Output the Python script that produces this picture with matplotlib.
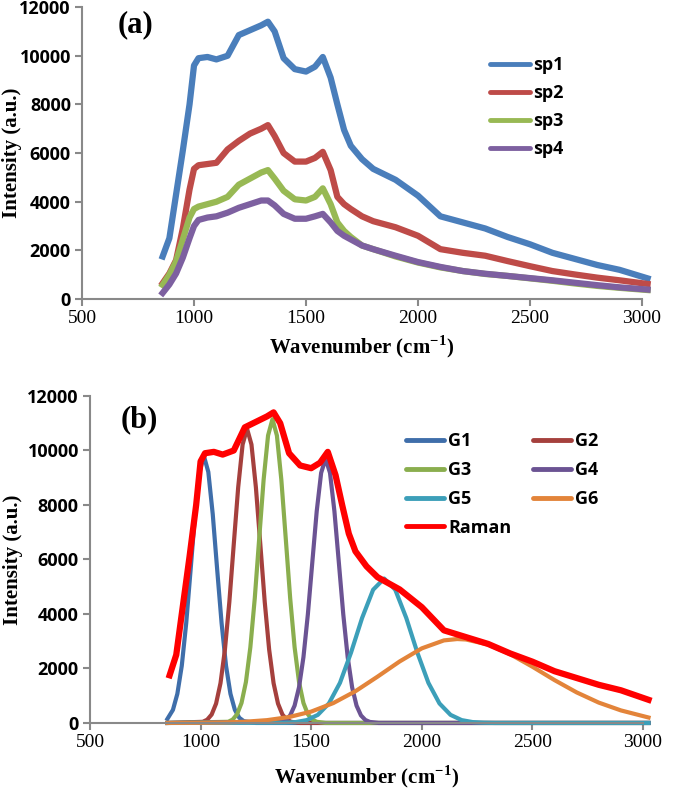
import matplotlib
matplotlib.use("Agg")
import matplotlib.pyplot as plt

plt.rcParams['mathtext.fontset'] = 'custom'
plt.rcParams['mathtext.rm'] = 'Liberation Serif:bold'
plt.rcParams['mathtext.bf'] = 'Liberation Serif:bold'

# wavenumber grid the spectra were read at (cm-1)
wn = [860, 890, 920, 950, 980, 1000, 1020, 1060, 1100, 1150, 1200, 1250, 1300,
      1330, 1360, 1400, 1450, 1500, 1540, 1575, 1610, 1640, 1670, 1700, 1750,
      1800, 1900, 2000, 2100, 2200, 2300, 2400, 2500, 2600, 2700, 2800, 2900, 3025]

sp1 = [1750, 2500, 4300, 6100, 8000, 9600, 9900, 9950, 9850, 10000, 10850, 11050, 11250,
       11400, 11000, 9900, 9450, 9350, 9550, 9950, 9100, 8000, 6950, 6300, 5750,
       5350, 4900, 4250, 3400, 3150, 2900, 2550, 2250, 1900, 1650, 1400, 1200, 850]
sp2 = [650, 1050, 1600, 2900, 4500, 5350, 5500, 5550, 5600, 6150, 6500, 6800, 7000,
       7150, 6700, 6000, 5650, 5650, 5800, 6050, 5300, 4200, 3900, 3700, 3400,
       3200, 2950, 2600, 2050, 1900, 1780, 1560, 1350, 1150, 1010, 880, 770, 620]
sp3 = [580, 1000, 1550, 2450, 3350, 3700, 3800, 3900, 4000, 4200, 4700, 4950, 5200,
       5300, 4950, 4450, 4100, 4050, 4200, 4550, 3900, 3150, 2800, 2550, 2200,
       2050, 1750, 1500, 1300, 1150, 1030, 950, 850, 750, 640, 540, 460, 370]
sp4 = [250, 600, 1050, 1700, 2500, 3000, 3250, 3350, 3400, 3550, 3750, 3900, 4050,
       4050, 3850, 3500, 3300, 3300, 3400, 3500, 3150, 2800, 2600, 2450, 2200,
       2050, 1780, 1520, 1320, 1150, 1040, 950, 860, 770, 670, 570, 480, 390]

# fitted components in panel (b), read point by point
g1_x = [850, 875, 895, 915, 935, 955, 975, 995, 1015, 1035, 1055, 1075, 1095, 1115,
        1135, 1155, 1175, 1195, 1250, 3025]
g1_y = [150, 480, 1070, 2100, 3660, 5630, 7660, 9210, 9800, 9210, 7660, 5630, 3660, 2100,
        1070, 480, 190, 67, 0, 0]
g2_x = [850, 1010, 1030, 1050, 1070, 1090, 1110, 1130, 1150, 1170, 1190, 1210, 1230,
        1250, 1270, 1290, 1310, 1330, 1350, 1370, 1390, 1410, 1450, 3025]
g2_y = [0, 42, 120, 309, 710, 1460, 2690, 4440, 6560, 8650, 10220, 10800, 10220,
        8650, 6560, 4440, 2690, 1460, 710, 309, 120, 42, 0, 0]
g3_x = [850, 1125, 1145, 1165, 1185, 1205, 1225, 1245, 1265, 1285, 1305, 1325, 1345,
        1365, 1385, 1405, 1425, 1445, 1465, 1485, 1505, 1525, 1565, 3025]
g3_y = [0, 43, 124, 319, 733, 1505, 2780, 4580, 6770, 8930, 10550, 11150, 10550,
        8930, 6770, 4580, 2780, 1505, 733, 319, 124, 43, 0, 0]
g4_x = [850, 1365, 1385, 1405, 1425, 1445, 1465, 1485, 1505, 1525, 1545, 1565, 1585,
        1605, 1625, 1645, 1665, 1685, 1705, 1725, 1745, 1765, 1805, 3025]
g4_y = [0, 38, 108, 277, 637, 1310, 2415, 3990, 5890, 7770, 9180, 9700, 9180,
        7770, 5890, 3990, 2415, 1310, 637, 277, 108, 38, 0, 0]
g5_x = [850, 1380, 1430, 1480, 1530, 1580, 1630, 1680, 1730, 1780, 1830, 1880, 1930,
        1980, 2030, 2080, 2130, 2180, 2230, 2280, 2330, 3025]
g5_y = [0, 8, 32, 105, 297, 715, 1470, 2580, 3850, 4890, 5300, 4890, 3850,
        2580, 1470, 715, 297, 105, 32, 8, 0, 0]
g6_x = [850, 1000, 1100, 1200, 1300, 1400, 1500, 1600, 1700, 1800, 1900, 2000, 2100,
        2160, 2200, 2300, 2400, 2500, 2600, 2700, 2800, 2900, 3025]
g6_y = [1, 6, 18, 45, 103, 217, 417, 730, 1165, 1700, 2258, 2738, 3030,
        3080, 3063, 2877, 2522, 2064, 1573, 1122, 747, 461, 200]

x_ticks = [500, 1000, 1500, 2000, 2500, 3000]
y_ticks = [0, 2000, 4000, 6000, 8000, 10000, 12000]

grey = '#898989'
tick_font = dict(family='Open Sans', weight='bold', size=13)
serif_ticks = dict(family='Liberation Serif', size=14)
label_font = dict(family='Liberation Serif', weight='bold', size=15)
legend_font = dict(family='Open Sans', weight='bold', size=13)


def style_axes(ax):
    for s in ['top', 'right']:
        ax.spines[s].set_visible(False)
    for s in ['left', 'bottom']:
        ax.spines[s].set_color(grey)
        ax.spines[s].set_linewidth(1.5)
    ax.set_xlim(500, 3000)
    ax.set_ylim(0, 12000)
    ax.set_xticks(x_ticks)
    ax.set_xticklabels([str(t) for t in x_ticks], fontdict=serif_ticks)
    ax.set_yticks(y_ticks)
    ax.set_yticklabels([str(t) for t in y_ticks], fontdict=tick_font)
    ax.tick_params(direction='out', length=5, width=1.5, color=grey, pad=3)
    ax.set_xlabel(r'Wavenumber (cm$^{-1}$)', fontdict=label_font)
    ax.set_ylabel('Intensity (a.u.)', fontdict=label_font)
    ax.xaxis.label.set_va('center')
    ax.yaxis.label.set_va('center')


def round_legend(leg):
    for ln in leg.get_lines():
        ln.set_solid_capstyle('round')
        ln.set_linewidth(3.5)


fig = plt.figure(figsize=(6.75, 7.89), dpi=100)

# ---- panel (a)
ax1 = fig.add_axes([0.1215, 0.621, 0.8296, 0.370])
style_axes(ax1)
for y, c, lab in [(sp1, '#4A7EBB', 'sp1'), (sp2, '#BE4B48', 'sp2'),
                  (sp3, '#98B954', 'sp3'), (sp4, '#7D60A0', 'sp4')]:
    ax1.plot(wn, y, color=c, lw=4.5, label=lab, clip_on=False,
             solid_joinstyle='round')
ax1.xaxis.set_label_coords(0.5, -0.164)
ax1.yaxis.set_label_coords(-0.125, 0.5)
ax1.text(0.095, 0.938, '(a)', transform=ax1.transAxes, ha='center', va='center',
         family='Liberation Serif', weight='bold', size=22)
leg1 = ax1.legend(loc='center left', bbox_to_anchor=(0.726, 0.864),
                  bbox_transform=fig.transFigure, frameon=False, prop=legend_font,
                  handlelength=2.2, handletextpad=0.2, labelspacing=0.55,
                  borderpad=0, borderaxespad=0)
round_legend(leg1)

# ---- panel (b)
ax2 = fig.add_axes([0.1333, 0.0837, 0.8193, 0.4144])
style_axes(ax2)
comps = [(g1_x, g1_y, '#3F6EAA', 'G1'), (g2_x, g2_y, '#A5403D', 'G2'),
         (g3_x, g3_y, '#8AAE4E', 'G3'), (g4_x, g4_y, '#6B5393', 'G4'),
         (g5_x, g5_y, '#3C9FB9', 'G5'), (g6_x, g6_y, '#E3843A', 'G6')]
handles = {}
for gx, gy, c, lab in comps:
    handles[lab], = ax2.plot(gx, gy, color=c, lw=3, label=lab, clip_on=False,
                             solid_joinstyle='round')
handles['Raman'], = ax2.plot(wn, sp1, color='#FF0000', lw=4.5, label='Raman',
                             clip_on=False, solid_joinstyle='round')
ax2.xaxis.set_label_coords(0.5, -0.165)
ax2.yaxis.set_label_coords(-0.139, 0.5)
ax2.text(0.089, 0.927, '(b)', transform=ax2.transAxes, ha='center', va='center',
         family='Liberation Serif', weight='bold', size=22)
order = ['G1', 'G3', 'G5', 'Raman', 'G2', 'G4', 'G6']
leg2 = ax2.legend([handles[k] for k in order], order, ncol=2,
                  loc='center left', bbox_to_anchor=(0.601, 0.386),
                  bbox_transform=fig.transFigure, frameon=False, prop=legend_font,
                  handlelength=2.1, handletextpad=0.25, labelspacing=0.6,
                  columnspacing=1.2, borderpad=0, borderaxespad=0)
round_legend(leg2)

fig.savefig('out.png', dpi=100)
